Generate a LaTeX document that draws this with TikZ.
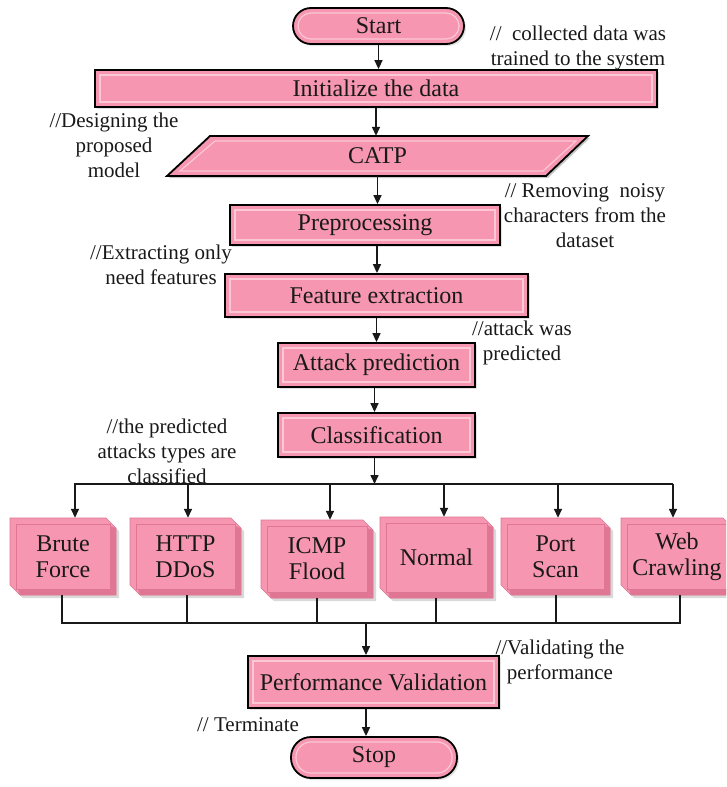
\documentclass[tikz,border=0pt]{standalone}
\usepackage{fontspec}
\setmainfont{Liberation Serif}
\usetikzlibrary{arrows.meta,shadows}
\definecolor{boxpink}{RGB}{246,150,176}
\definecolor{boxlight}{RGB}{252,200,214}
\definecolor{boxdark}{RGB}{222,118,148}
\definecolor{inkc}{RGB}{25,25,25}
\tikzset{
  base/.style={fill=boxpink, draw=black, line width=1.8pt, text=inkc,
    font=\fontsize{24}{26}\selectfont, inner sep=0pt, align=center,
    drop shadow={opacity=0.22, shadow xshift=2pt, shadow yshift=-2pt}},
  procbox/.style={base, rectangle,
    path picture={\draw[boxlight,line width=1.2pt]
      ([shift={(5pt,-5pt)}]path picture bounding box.north west) rectangle
      ([shift={(-5pt,5pt)}]path picture bounding box.south east);}},
  termbox/.style={base, rectangle, rounded corners=#1,
    path picture={\draw[boxlight,line width=1.2pt,rounded corners=#1-5pt]
      ([shift={(5pt,-5pt)}]path picture bounding box.north west) rectangle
      ([shift={(-5pt,5pt)}]path picture bounding box.south east);}},
  plaintext/.style={inner sep=0pt, align=center, text=inkc,
    font=\fontsize{24}{26}\selectfont},
  note/.style={inner sep=0pt, align=center, text=inkc,
    font=\fontsize{21}{25}\selectfont},
  arr/.style={draw=inkc, line width=1.5pt, -{Triangle[length=9pt,width=8pt]}},
  ln/.style={draw=inkc, line width=1.5pt},
}
\newcommand\bevelnode[6]{%
  \fill[black, opacity=0.15] ({#2-#4/2+3},{#3-#5/2+3}) -- ({#2+#4/2-10+3},{#3-#5/2+3}) -- ({#2+#4/2+3},{#3-#5/2+10+3}) -- ({#2+#4/2+3},{#3+#5/2+3}) -- ({#2-#4/2+10+3},{#3+#5/2+3}) -- ({#2-#4/2+3},{#3+#5/2-10+3}) -- cycle;
  \fill[boxpink] ({#2-#4/2},{#3-#5/2}) -- ({#2+#4/2-10},{#3-#5/2}) -- ({#2+#4/2},{#3-#5/2+10}) -- ({#2+#4/2},{#3+#5/2}) -- ({#2-#4/2+10},{#3+#5/2}) -- ({#2-#4/2},{#3+#5/2-10}) -- cycle;
  \fill[boxdark] ({#2+#4/2},{#3-#5/2+10}) -- ({#2+#4/2},{#3+#5/2}) -- ({#2+#4/2-6},{#3+#5/2-6}) -- ({#2+#4/2-6},{#3-#5/2+8}) -- cycle;
  \fill[boxdark] ({#2-#4/2+10},{#3+#5/2}) -- ({#2+#4/2},{#3+#5/2}) -- ({#2+#4/2-6},{#3+#5/2-6}) -- ({#2-#4/2+8},{#3+#5/2-6}) -- cycle;
  \draw[boxdark, line width=0.8pt] ({#2-#4/2+6},{#3-#5/2+6}) rectangle ({#2+#4/2-6},{#3+#5/2-6});
  \draw[boxdark, line width=0.6pt] ({#2-#4/2},{#3-#5/2}) -- ({#2+#4/2-10},{#3-#5/2}) -- ({#2+#4/2},{#3-#5/2+10}) -- ({#2+#4/2},{#3+#5/2}) -- ({#2-#4/2+10},{#3+#5/2}) -- ({#2-#4/2},{#3+#5/2-10}) -- cycle;
  \node[plaintext, minimum width=#4, minimum height=#5] (#1) at (#2,#3) {#6};
}
\begin{document}
\begin{tikzpicture}[x=1pt,y=-1pt]
\useasboundingbox (0,0) rectangle (726,787);
\clip (0,0) rectangle (726,787);
\fill[white] (0,0) rectangle (726,787);

% main column
\node[termbox=18pt, minimum width=171, minimum height=36] (start) at (378.5,26) {Start};
\node[procbox, minimum width=562, minimum height=37] (init) at (376,88.5) {Initialize the data};
\fill[black, opacity=0.22] (212,138) -- (590,138) -- (548,178) -- (169,178) -- cycle;
\filldraw[fill=boxpink, draw=black, line width=1.8pt] (210,136) -- (588,136) -- (546,176) -- (167,176) -- cycle;
\draw[boxlight, line width=1.2pt] (215,141) -- (576,141) -- (543,171) -- (180,171) -- cycle;
\node[plaintext, minimum width=300, minimum height=40] (catp) at (377.5,156) {CATP};
\node[procbox, minimum width=270, minimum height=40] (pre) at (365,225) {Preprocessing};
\node[procbox, minimum width=303, minimum height=43] (feat) at (376.5,295.5) {Feature extraction};
\node[procbox, minimum width=197, minimum height=44] (pred) at (376.5,365) {Attack prediction};
\node[procbox, minimum width=197, minimum height=44] (cls) at (376.5,435) {Classification};

\draw[arr] (start.south) -- (start.south |- init.north);
\draw[arr] (init.south) -- (init.south |- catp.north);
\draw[arr] (catp.south) -- (catp.south |- pre.north);
\draw[arr] ([xshift=12pt]pre.south) -- ([xshift=12pt]pre.south |- feat.north);
\draw[arr] (feat.south) -- (feat.south |- pred.north);
\draw[arr] ([xshift=-2pt]pred.south) -- ([xshift=-2pt]pred.south |- cls.north);

% class boxes
\bevelnode{bf}{63}{556.5}{106}{77}{Brute\\Force}
\bevelnode{http}{185.5}{556.5}{111}{77}{HTTP\\DDoS}
\bevelnode{icmp}{317}{559}{112}{78}{ICMP\\Flood}
\bevelnode{norm}{436.5}{557.5}{113}{81}{Normal}
\bevelnode{port}{555.5}{556.5}{109}{77}{Port\\Scan}
\bevelnode{web}{677}{556.5}{112}{77}{Web\\Crawling}

% top bus
\coordinate (busc) at (374,484);
\coordinate (busl) at (74,484);
\coordinate (busr) at (673,484);
\draw[arr] ([xshift=-2pt]cls.south) -- ([xshift=-2pt]cls.south |- busc);
\draw[ln] (busl) -- (busr);
\coordinate (t1) at (75,484);
\coordinate (t2) at (188,484);
\coordinate (t3) at (330,484);
\coordinate (t4) at (444,484);
\coordinate (t5) at (558,484);
\coordinate (t6) at (673,484);
\draw[arr] (t1) -- (t1 |- bf.north);
\draw[arr] (t2) -- (t2 |- http.north);
\draw[arr] (t3) -- (t3 |- icmp.north);
\draw[arr] (t4) -- (t4 |- norm.north);
\draw[arr] (t5) -- (t5 |- port.north);
\draw[arr] (t6) -- (t6 |- web.north);

% bottom bus
\coordinate (u1) at (62,623);
\coordinate (u2) at (187,623);
\coordinate (u3) at (317,623);
\coordinate (u4) at (436,623);
\coordinate (u5) at (556,623);
\coordinate (u6) at (680,623);
\draw[ln] (u1 |- bf.south) -- (u1);
\draw[ln] (u2 |- http.south) -- (u2);
\draw[ln] (u3 |- icmp.south) -- (u3);
\draw[ln] (u4 |- norm.south) -- (u4);
\draw[ln] (u5 |- port.south) -- (u5);
\draw[ln] (u6 |- web.south) -- (u6);
\draw[ln] ([xshift=-0.75pt]u1) -- ([xshift=0.75pt]u6);
\coordinate (ub) at (366,623);

\node[procbox, minimum width=251, minimum height=52] (pv) at (373.5,682) {Performance Validation};
\node[termbox=20pt, minimum width=166, minimum height=41] (stop) at (374,757.5) {Stop};
\draw[arr] (ub) -- (ub |- pv.north);
\draw[arr] (ub |- pv.south) -- (ub |- stop.north);

% notes
\node[note] (n1) at (578,48) {//\ \ collected data was\\trained to the system};
\node[note] (n2) at (114,145) {//Designing the\\proposed\\model};
\node[note] (n3) at (585,216) {// Removing\ \ noisy\\characters from the\\dataset};
\node[note] (n4) at (161,265) {//Extracting only\\need features};
\node[note] (n5) at (522,343) {//attack was\\predicted};
\node[note] (n6) at (167,451) {//the predicted\\attacks types are\\classified};
\node[note] (n7) at (560,662) {//Validating the\\performance};
\node[note] (n8) at (248,725) {// Terminate};
\end{tikzpicture}
\end{document}
